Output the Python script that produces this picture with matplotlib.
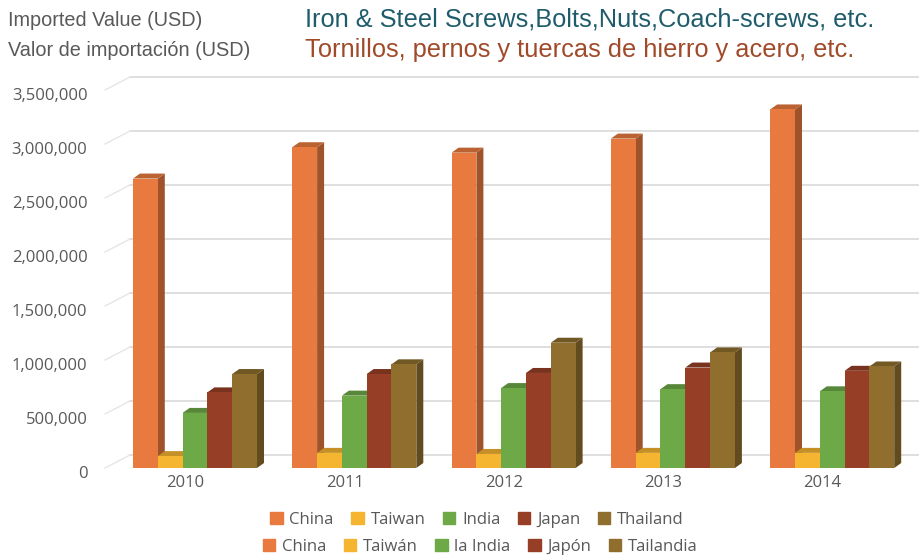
import numpy as np
import matplotlib.pyplot as plt
from matplotlib.patches import Patch
from matplotlib.colors import to_rgb
from matplotlib.transforms import ScaledTranslation

# Data (USD)
years = ['2010', '2011', '2012', '2013', '2014']
countries_en = ['China', 'Taiwan', 'India', 'Japan', 'Thailand']
countries_es = ['China', 'Taiwán', 'la India', 'Japón', 'Tailandia']
china = [2680000, 2970000, 2920000, 3050000, 3320000]
taiwan = [110000, 140000, 130000, 140000, 140000]
india = [510000, 670000, 740000, 730000, 710000]
japan = [700000, 870000, 880000, 930000, 900000]
thailand = [870000, 960000, 1160000, 1070000, 940000]
series = [china, taiwan, india, japan, thailand]
colors = ['#E97A3F', '#F6B531', '#6DAA47', '#973F26', '#8F6E2E']

W, H = 920, 557
fig = plt.figure(figsize=(W / 100, H / 100), dpi=100)

# axes placement in pixels
ax_left, ax_right, ax_bottom, ax_top = 100, 920, 468, 90
ax = fig.add_axes([ax_left / W, 1 - ax_bottom / H,
                   (ax_right - ax_left) / W, (ax_bottom - ax_top) / H])

group_px = 159.3          # pixels between year groups
first_center_px = 195     # pixel x of the first group centre
ymax = 3500000
px_per_y = (ax_bottom - ax_top) / ymax

x0 = (ax_left - first_center_px) / group_px
x1 = (ax_right - first_center_px) / group_px
ax.set_xlim(x0, x1)
ax.set_ylim(0, ymax)

bar_w = 24.8 / group_px
# 3D offsets converted to data units
bdx, bdy = 7 / group_px, 5 / px_per_y
wdx, wdy = 25 / group_px, 13 / px_per_y
wall_front = (105 - first_center_px) / group_px

grid_col = '#d9d9d9'
yt = np.arange(0, ymax + 1, 500000)
for v in yt:
    ax.plot([wall_front + wdx, x1], [v + wdy, v + wdy], color=grid_col,
            lw=1.2, clip_on=False, zorder=0)
    ax.plot([wall_front, wall_front + wdx], [v, v + wdy], color='#e6e6e6',
            lw=1.0, clip_on=False, zorder=0)


def shade(c, f):
    r, g, b = to_rgb(c)
    return (r * f, g * f, b * f)


x = np.arange(len(years))
for gi in x:
    for si, vals in enumerate(series):
        left = gi + (si - 2.5) * bar_w
        right = left + bar_w
        h = vals[gi]
        c = colors[si]
        # side face
        ax.fill([right, right + bdx, right + bdx, right],
                [0, bdy, h + bdy, h], color=shade(c, 0.68), lw=0, zorder=2)
        # top face
        ax.fill([left, left + bdx, right + bdx, right],
                [h, h + bdy, h + bdy, h], color=shade(c, 0.8), lw=0, zorder=2)
        ax.bar(left, h, width=bar_w, align='edge', color=c, lw=0, zorder=2)

for s in ax.spines.values():
    s.set_visible(False)

tick_font = dict(family='Open Sans', size=12, color='#595959')
ax.set_yticks(yt)
ax.set_yticklabels([f'{int(v):,}' for v in yt], **tick_font)
ax.set_xticks(x)
ax.set_xticklabels(years, **tick_font)
ax.tick_params(length=0)
ax.tick_params(axis='y', pad=9)
ax.tick_params(axis='x', pad=5)
for lab in ax.get_xticklabels():
    lab.set_transform(lab.get_transform() + ScaledTranslation(-7 / 72, 0, fig.dpi_scale_trans))
for lab in ax.get_yticklabels():
    lab.set_transform(lab.get_transform() + ScaledTranslation(0, -3 / 72, fig.dpi_scale_trans))

# headings
fig.text(8 / W, 1 - 21 / H, 'Imported Value (USD)', family='Liberation Sans',
         size=14.3, color='#595959', va='center')
fig.text(8 / W, 1 - 51 / H, 'Valor de importación (USD)', family='Liberation Sans',
         size=14.3, color='#595959', va='center')
fig.text(305 / W, 1 - 20 / H, 'Iron & Steel Screws,Bolts,Nuts,Coach-screws, etc.',
         family='Liberation Sans', size=18.3, color='#1F5C6B', va='center')
fig.text(305 / W, 1 - 50 / H, 'Tornillos, pernos y tuercas de hierro y acero, etc.',
         family='Liberation Sans', size=18.3, color='#A04A2A', va='center')

# two-row legend
leg_kw = dict(ncol=5, frameon=False, handlelength=0.75, handleheight=0.75,
              handletextpad=0.4, columnspacing=1.05, loc='center',
              prop={'family': 'Open Sans', 'size': 12}, labelcolor='#595959')
h_en = [Patch(color=c) for c in colors]
h_es = [Patch(color=c) for c in colors]
fig.legend(h_en, countries_en, bbox_to_anchor=(477 / W, 1 - 520 / H), **leg_kw)
fig.legend(h_es, countries_es, bbox_to_anchor=(480 / W, 1 - 547 / H), **leg_kw)

fig.savefig('out.png', dpi=100)
